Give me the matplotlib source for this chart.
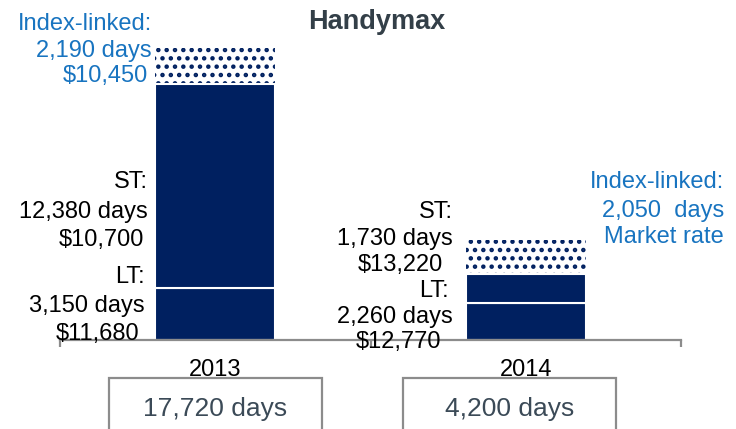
import numpy as np
import matplotlib.pyplot as plt
from matplotlib.patches import Rectangle

plt.rcParams['font.family'] = ['Liberation Sans', 'DejaVu Sans']
plt.rcParams['hatch.linewidth'] = 2.0

years = ['2013', '2014']
lt_days = [3150, 2260]
st_days = [12380, 1730]
il_days = [2190, 2050]
lt_rate = ['$11,680', '$12,770']
st_rate = ['$10,700', '$13,220']
il_rate = ['$10,450', 'Market rate']
total_days = [17720, 4200]

navy = '#002060'
blue = '#1874c0'
grey = '#8c8c8c'
W, H = 736, 429

fig = plt.figure(figsize=(W / 100, H / 100), dpi=100)
# axes: x 60..681 px, baseline at y=340 px, 1 day = 0.01648 px
ax = fig.add_axes([60 / W, (H - 340) / H, 621 / W, 20000 * 0.01648 / H])

x = np.arange(len(years))
lt = np.array(lt_days)
st = np.array(st_days)
il = np.array(il_days)
bw = 0.386
ax.bar(x, lt, bw, color=navy, edgecolor='white', linewidth=1.5, zorder=2)
ax.bar(x, st, bw, bottom=lt, color=navy, edgecolor='white', linewidth=1.5, zorder=2)
ax.bar(x, il, bw, bottom=lt + st, color='white', edgecolor=navy, linewidth=0,
       hatch='..', zorder=1)

ax.set_xlim(-0.5, 1.5)
ax.set_ylim(0, 20000)
for s in ['top', 'left', 'right']:
    ax.spines[s].set_visible(False)
ax.spines['bottom'].set_color(grey)
ax.spines['bottom'].set_linewidth(1.6)
ax.spines['bottom'].set_zorder(3)
ax.set_yticks([])
ax.set_xticks([-0.5, 0.5, 1.5])
ax.set_xticklabels([])
ax.tick_params(axis='x', length=5, width=1.6, color=grey, direction='out')


def ftxt(px, py, s, ha='right', **kw):
    fig.text(px / W, 1 - py / H, s, ha=ha, va='baseline', **kw)


ftxt(377, 29, 'Handymax', ha='center', fontsize=19.5, fontweight='bold', color='#333f48')

# 2013 labels
ftxt(152, 30, 'Index-linked:', fontsize=17, color=blue)
ftxt(152, 57, f'{il_days[0]:,} days', fontsize=17, color=blue)
ftxt(148, 82, il_rate[0], fontsize=17, color=blue)
ftxt(148, 188, 'ST:', fontsize=17)
ftxt(148, 218, f'{st_days[0]:,} days', fontsize=17)
ftxt(144, 246, st_rate[0], fontsize=17)
ftxt(145, 283, 'LT:', fontsize=17)
ftxt(145, 312, f'{lt_days[0]:,} days', fontsize=17)
ftxt(139, 340, lt_rate[0], fontsize=17)

# 2014 labels
ftxt(453, 218, 'ST:', fontsize=17)
ftxt(453, 245, f'{st_days[1]:,} days', fontsize=17)
ftxt(443, 271, st_rate[1], fontsize=17)
ftxt(449, 297, 'LT:', fontsize=17)
ftxt(453, 323, f'{lt_days[1]:,} days', fontsize=17)
ftxt(441, 348, lt_rate[1], fontsize=17)
ftxt(724, 188, 'Index-linked:', fontsize=17, color=blue)
ftxt(724, 217, f'{il_days[1]:,}  days', fontsize=17, color=blue)
ftxt(724, 243, il_rate[1], fontsize=17, color=blue)

# year labels and total boxes
for i, (yr, tot) in enumerate(zip(years, total_days)):
    cx = ax.transData.transform((x[i], 0))[0]
    ftxt(cx, 376, yr, ha='center', fontsize=17)
    bx = 109 if i == 0 else 403
    fig.patches.append(Rectangle((bx / W, -0.05), 213 / W, (H - 378) / H + 0.05,
                                 transform=fig.transFigure, fill=False,
                                 edgecolor=grey, linewidth=1.6))
    ftxt(bx + 106.5, 416, f'{tot:,} days', ha='center', fontsize=19, color='#3b4a57')

fig.savefig('out.png', dpi=100)
